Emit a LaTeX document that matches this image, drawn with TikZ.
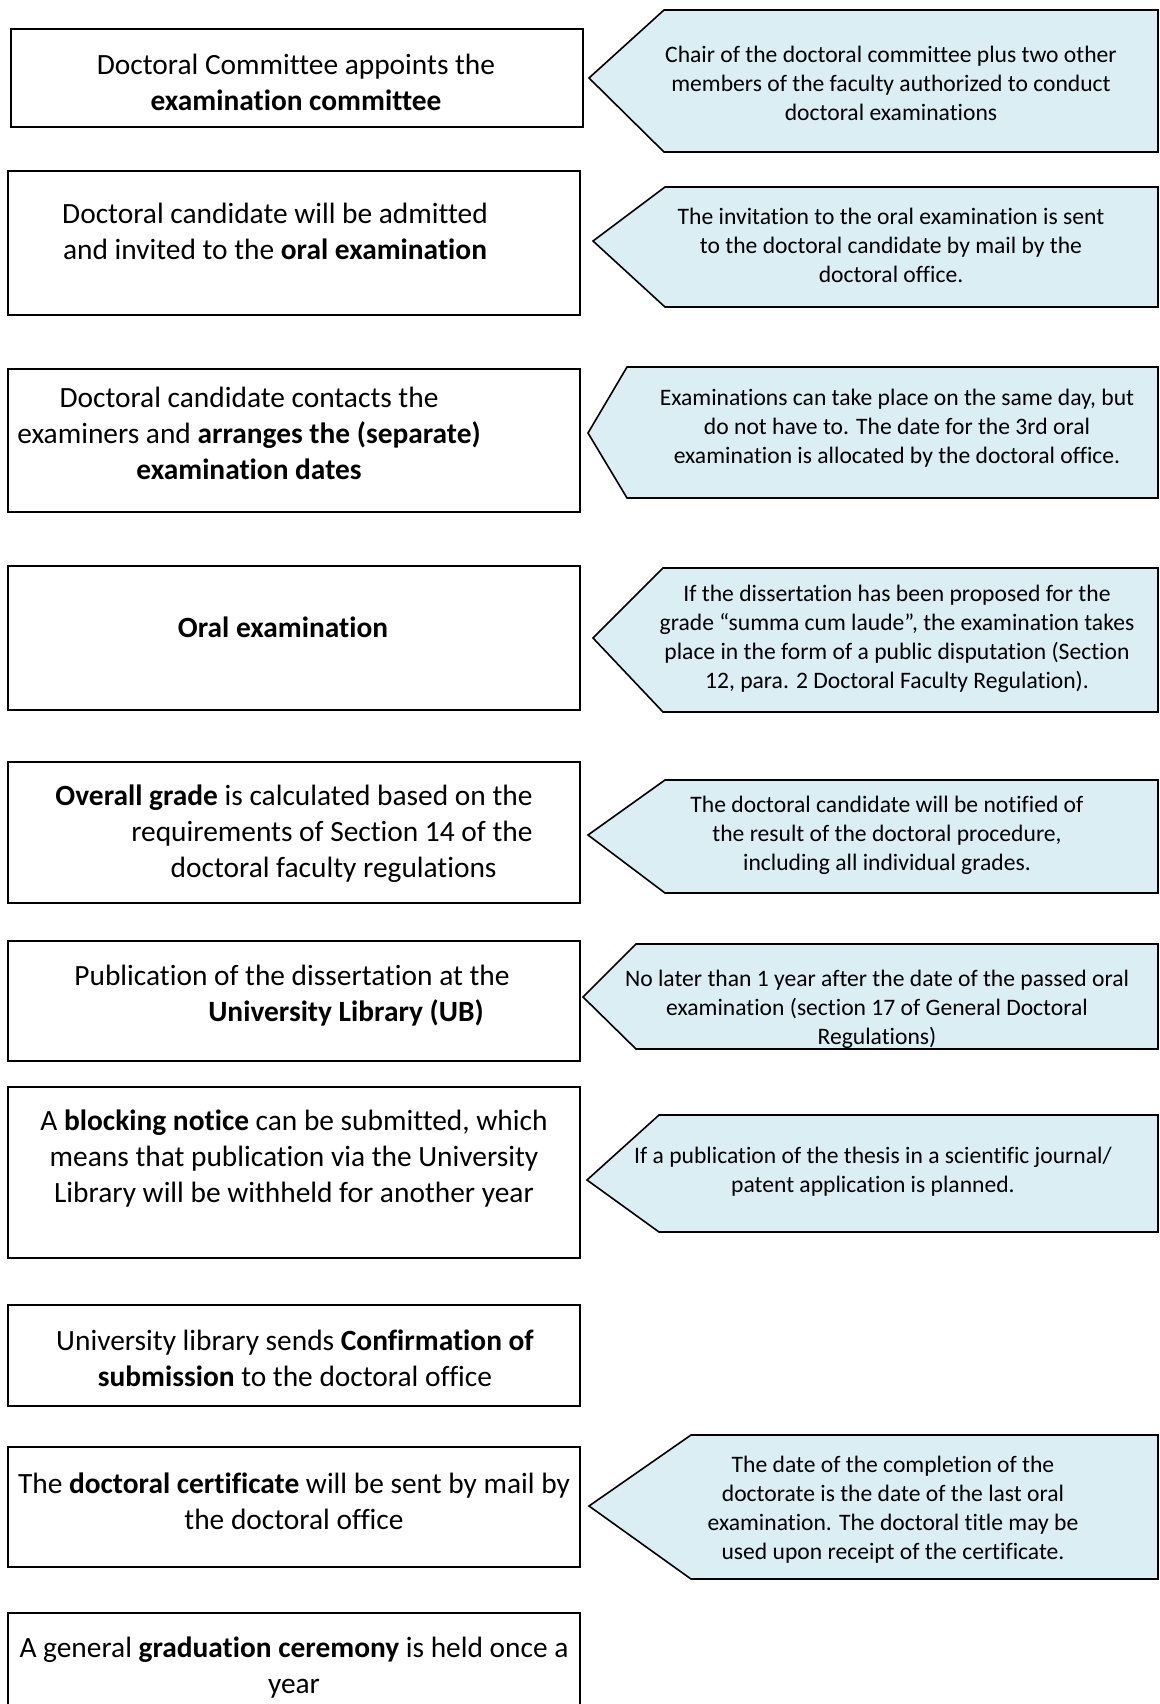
\documentclass[tikz,border=0pt]{standalone}
\usepackage{fontspec}
\setmainfont[Ligatures={TeX,NoCommon}]{Carlito}
\usetikzlibrary{calc}
\definecolor{notefill}{RGB}{218,238,243}

\begin{document}
\begin{tikzpicture}[x=0.5pt,y=-0.5pt,
	stepbox/.style={draw=black,line width=0.8pt},
	notebox/.style={draw=black,line width=0.8pt,fill=notefill,line join=miter},
	steptext/.style={align=center,inner sep=0pt,font=\fontsize{14.7}{18}\selectfont},
	notetext/.style={align=center,inner sep=0pt,font=\fontsize{11.8}{14.5}\selectfont}]
		\useasboundingbox (0,0) rectangle (1160,1704);

		% steps on the left
		\draw[stepbox] (11,29) rectangle (583,127);
		\node[steptext] (step1) at (296,82) {Doctoral Committee appoints the\\\textbf{examination committee}};

		\draw[stepbox] (8,171) rectangle (580,315);
		\node[steptext] (step2) at (275,231) {Doctoral candidate will be admitted\\and invited to the \textbf{oral examination}};

		\draw[stepbox] (8,369) rectangle (580,512);
		\node[steptext] (step3) at (249,433) {Doctoral candidate contacts the\\examiners and \textbf{arranges the (separate)}\\\textbf{examination dates}};

		\draw[stepbox] (8,566) rectangle (580,710);
		\node[steptext] (step4) at (283,627) {\textbf{Oral examination}};

		\draw[stepbox] (8,762) rectangle (580,903);
		\node[steptext,align=right] (step5) at (294,834) {\textbf{Overall grade} is calculated based on the\\requirements of Section 14 of the\\doctoral faculty regulations\kern18pt};

		\draw[stepbox] (8,941) rectangle (580,1061);
		\node[steptext,align=right] (step6) at (292,996) {Publication of the dissertation at the\\\textbf{University Library (UB)}\kern13pt};

		\draw[stepbox] (8,1087) rectangle (580,1258);
		\node[steptext] (step7) at (294,1159) {A \textbf{blocking notice} can be submitted, which\\means that publication via the University\\Library will be withheld for another year};

		\draw[stepbox] (8,1305) rectangle (580,1406);
		\node[steptext] (step8) at (295,1358) {University library sends \textbf{Confirmation of}\\\textbf{submission} to the doctoral office};

		\draw[stepbox] (8,1447) rectangle (580,1567);
		\node[steptext] (step9) at (294,1501) {The \textbf{doctoral certificate} will be sent by mail by\\the doctoral office};

		\draw[stepbox] (8,1613) rectangle (580,1720);
		\node[steptext] (step10) at (294,1668) {A general \textbf{graduation ceremony} is held once a\\year};

		% notes on the right
		\draw[notebox] (589,78) -- (664,10) -- (1158,10) -- (1158,152) -- (664,152) -- cycle;
		\node[notetext] (note1) at (891,83) {Chair of the doctoral committee plus two other\\members of the faculty authorized to conduct\\doctoral examinations};

		\draw[notebox] (593,241) -- (665,187) -- (1158,187) -- (1158,307) -- (665,307) -- cycle;
		\node[notetext] (note2) at (891,245) {The invitation to the oral examination is sent\\to the doctoral candidate by mail by the\\doctoral office.};

		\draw[notebox] (588,433) -- (627,367) -- (1158,367) -- (1158,498) -- (627,498) -- cycle;
		\node[notetext] (note3) at (897,428) {Examinations can take place on the same day, but\\do not have to. The date for the 3rd oral\\examination is allocated by the doctoral office.};

		\draw[notebox] (593,638) -- (663,568) -- (1158,568) -- (1158,712) -- (663,712) -- cycle;
		\node[notetext] (note4) at (897,639) {If the dissertation has been proposed for the\\grade “summa cum laude”, the examination takes\\place in the form of a public disputation (Section\\12, para. 2 Doctoral Faculty Regulation).};

		\draw[notebox] (588,835) -- (665,780) -- (1158,780) -- (1158,893) -- (665,893) -- cycle;
		\node[notetext] (note5) at (887,835) {The doctoral candidate will be notified of\\the result of the doctoral procedure,\\including all individual grades.};

		\draw[notebox] (583,997) -- (636,944) -- (1158,944) -- (1158,1049) -- (636,1049) -- cycle;
		\node[notetext] (note6) at (877,1009) {No later than 1 year after the date of the passed oral\\examination (section 17 of General Doctoral\\Regulations)};

		\draw[notebox] (587,1180) -- (659,1115) -- (1158,1115) -- (1158,1232) -- (659,1232) -- cycle;
		\node[notetext] (note7) at (873,1172) {If a publication of the thesis in a scientific journal/\\patent application is planned.};

		\draw[notebox] (589,1506) -- (691,1435) -- (1158,1435) -- (1158,1579) -- (691,1579) -- cycle;
		\node[notetext] (note8) at (893,1510) {The date of the completion of the\\doctorate is the date of the last oral\\examination. The doctoral title may be\\used upon receipt of the certificate.};
	\end{tikzpicture}
\end{document}
